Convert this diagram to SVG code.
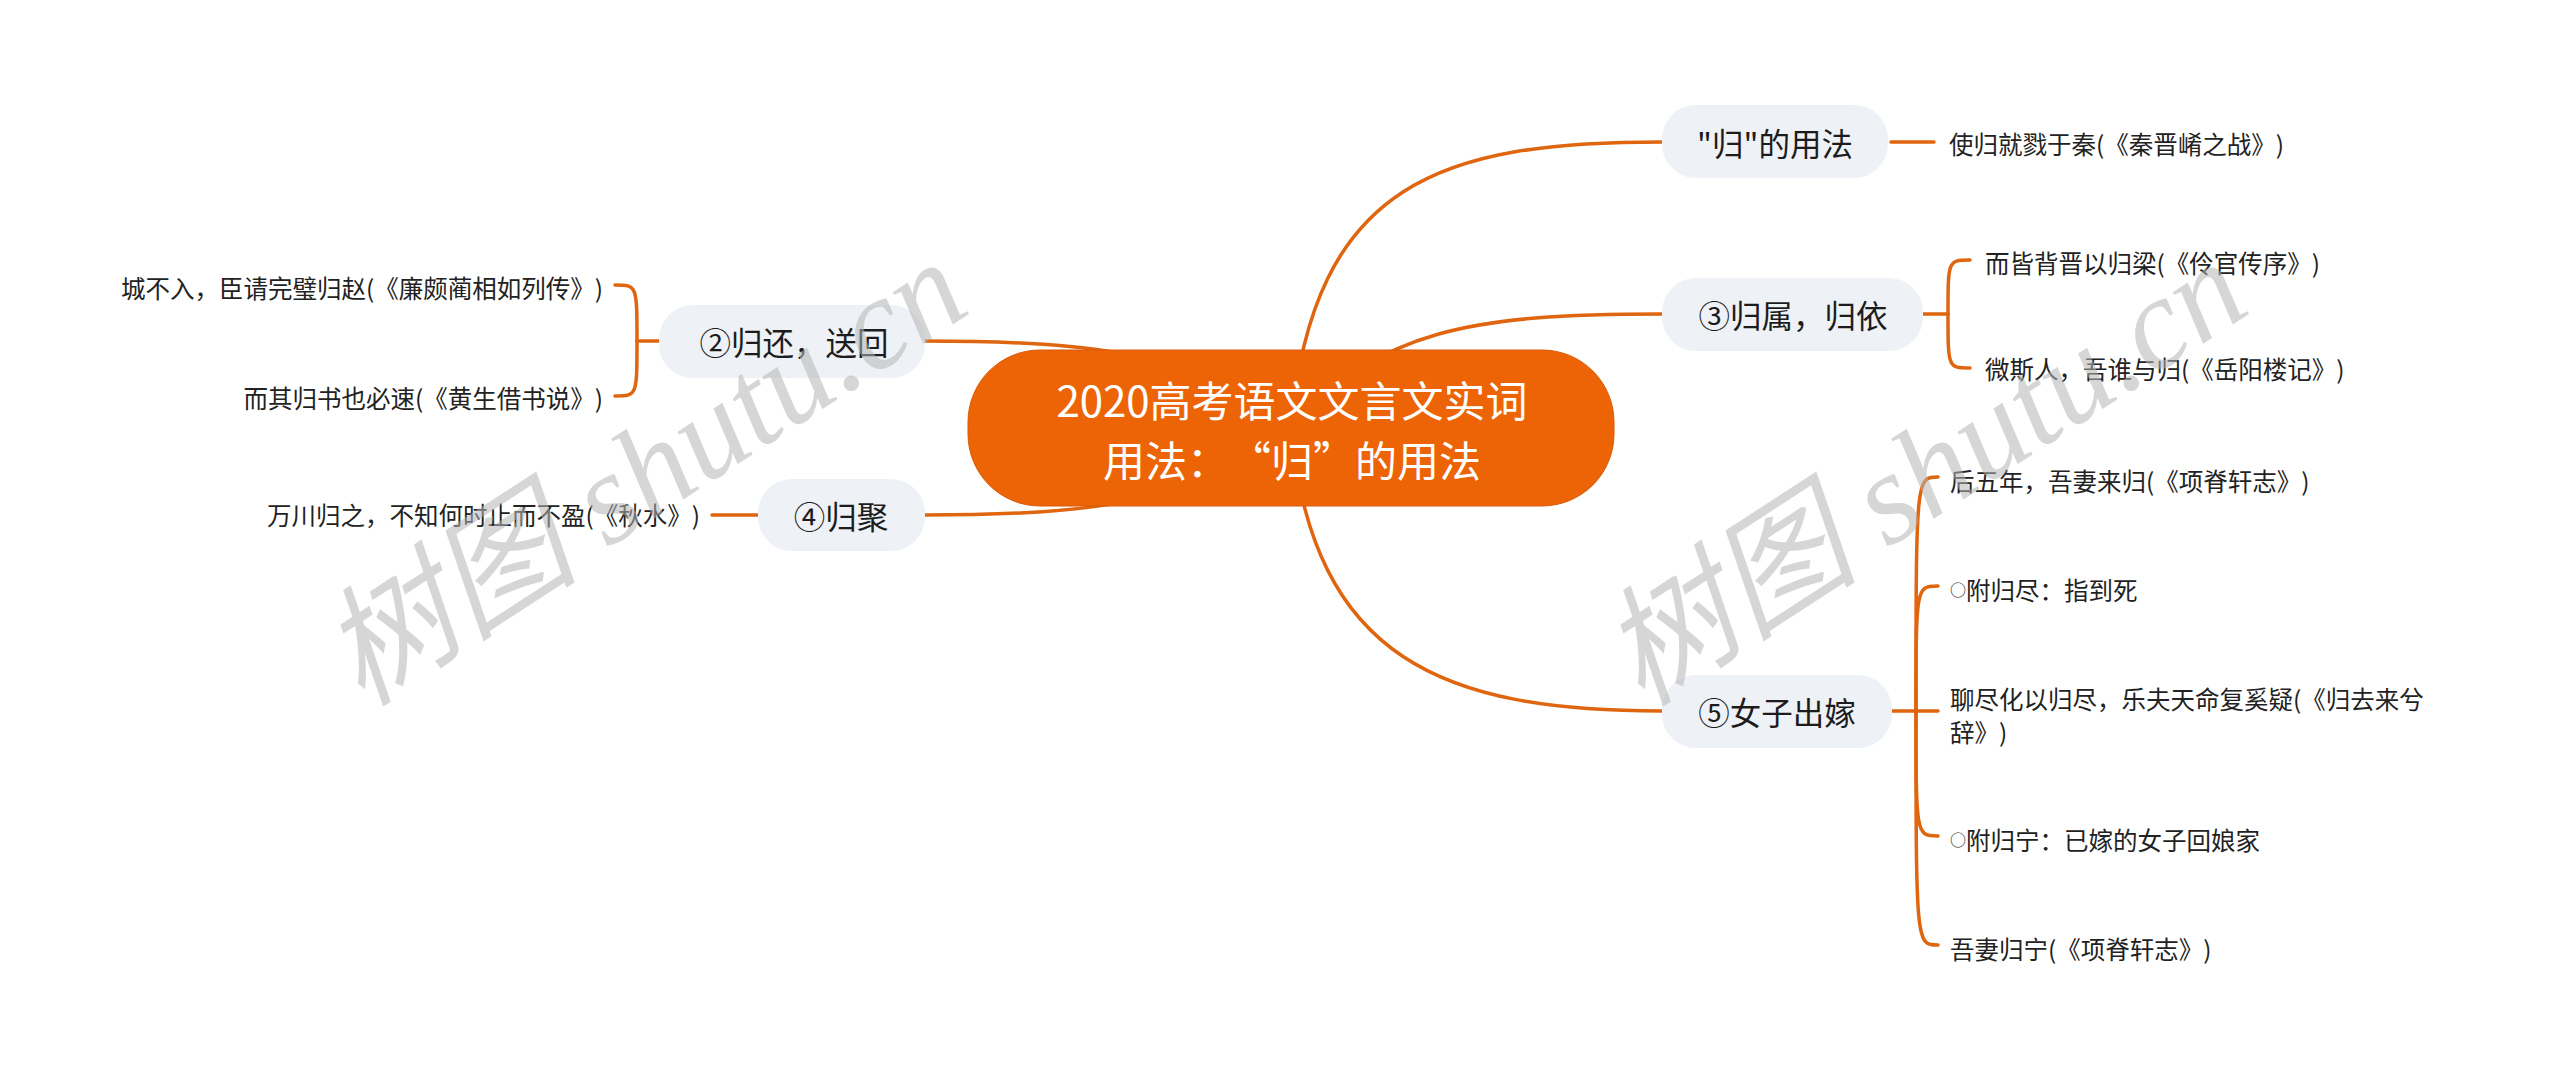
<svg xmlns="http://www.w3.org/2000/svg" width="2560" height="1079" viewBox="0 0 2560 1079">
<style>
text{text-spacing-trim:space-all}
.bg{fill:#ffffff}
.ln{fill:none;stroke:#E0650F;stroke-width:3.5;stroke-linecap:round}
.topic{fill:#EEF1F5}
.root{fill:#ED6406;stroke:#D95A08;stroke-width:1}
.rt{font-family:"Noto Sans CJK SC","Noto Sans",sans-serif;font-size:42px;fill:#ffffff;text-anchor:middle;dominant-baseline:central}
.tt{font-family:"Noto Sans CJK SC","Noto Sans",sans-serif;font-size:31.5px;fill:#1c1c1c;text-anchor:middle;dominant-baseline:central}
.lf{font-family:"Noto Sans CJK SC","Noto Sans",sans-serif;font-size:24.5px;fill:#222222;dominant-baseline:central}
.le{text-anchor:end}
.dot{font-size:16px}
.wm{font-family:"Liberation Serif","Noto Sans CJK SC",serif;font-style:italic;font-size:130px;fill:#b4b4b4;fill-opacity:0.55}
</style>
<rect class="bg" x="0" y="0" width="2560" height="1079"/>
<g id="connectors">
  <path class="ln" d="M1291 428 C1313 180 1444 142 1662 142"/>
  <path class="ln" d="M1291 428 C1380 330 1470 314 1662 314"/>
  <path class="ln" d="M1291 428 C1313 660 1444 711 1662 711"/>
  <path class="ln" d="M1291 428 C1200 355 1100 341 925 341"/>
  <path class="ln" d="M1291 428 C1200 501 1100 515 924 515"/>
  <path class="ln" d="M1891 142 H1934"/>
  <path class="ln" d="M1923 314 H1948"/>
  <path class="ln" d="M1948 314 C1948 260 1948 260 1970 260"/>
  <path class="ln" d="M1948 314 C1948 368 1948 368 1970 368"/>
  <path class="ln" d="M1892 711 H1938"/>
  <path class="ln" d="M1916 711 C1916 477 1916 477 1938 477"/>
  <path class="ln" d="M1916 711 C1916 586 1916 586 1938 586"/>
  <path class="ln" d="M1916 711 C1916 836 1916 836 1938 836"/>
  <path class="ln" d="M1916 711 C1916 945 1916 945 1938 945"/>
  <path class="ln" d="M659 341 H637"/>
  <path class="ln" d="M637 341 C637 285 637 285 615 285"/>
  <path class="ln" d="M637 341 C637 396 637 396 615 396"/>
  <path class="ln" d="M758 515 H712"/>
</g>
<g id="root">
  <rect class="root" x="968" y="350" width="646" height="156" rx="72"/>
  <text class="rt" x="1292" y="398">2020高考语文文言文实词</text>
  <text class="rt" x="1292" y="458">用法：“归”的用法</text>
</g>
<g id="n-usage">
  <rect class="topic" x="1662" y="105" width="226" height="73" rx="34"/>
  <text class="tt" x="1775" y="142">"归"的用法</text>
</g>
<g id="n-usage-1">
  <text class="lf" x="1949" y="143">使归就戮于秦(《秦晋崤之战》)</text>
</g>
<g id="n3">
  <rect class="topic" x="1662" y="278" width="261" height="73" rx="34"/>
  <text class="tt" x="1793" y="314">③归属，归依</text>
</g>
<g id="n3-1">
  <text class="lf" x="1985" y="262">而皆背晋以归梁(《伶官传序》)</text>
</g>
<g id="n3-2">
  <text class="lf" x="1985" y="368">微斯人，吾谁与归(《岳阳楼记》)</text>
</g>
<g id="n5">
  <rect class="topic" x="1662" y="675" width="230" height="73" rx="34"/>
  <text class="tt" x="1777" y="711">⑤女子出嫁</text>
</g>
<g id="n5-1">
  <text class="lf" x="1950" y="480">后五年，吾妻来归(《项脊轩志》)</text>
</g>
<g id="n5-2">
  <text class="lf" x="1950" y="589"><tspan class="dot">○</tspan>附归尽：指到死</text>
</g>
<g id="n5-3">
  <text class="lf" x="1950" y="698">聊尽化以归尽，乐夫天命复奚疑(《归去来兮</text>
  <text class="lf" x="1950" y="731">辞》)</text>
</g>
<g id="n5-4">
  <text class="lf" x="1950" y="839"><tspan class="dot">○</tspan>附归宁：已嫁的女子回娘家</text>
</g>
<g id="n5-5">
  <text class="lf" x="1950" y="948">吾妻归宁(《项脊轩志》)</text>
</g>
<g id="n2">
  <rect class="topic" x="659" y="305" width="266" height="73" rx="34"/>
  <text class="tt" x="794" y="341">②归还，送回</text>
</g>
<g id="n2-1">
  <text class="lf le" x="603" y="287">城不入，臣请完璧归赵(《廉颇蔺相如列传》)</text>
</g>
<g id="n2-2">
  <text class="lf le" x="603" y="397">而其归书也必速(《黄生借书说》)</text>
</g>
<g id="n4">
  <rect class="topic" x="758" y="479" width="167" height="72" rx="34"/>
  <text class="tt" x="841" y="515">④归聚</text>
</g>
<g id="n4-1">
  <text class="lf le" x="700" y="514">万川归之，不知何时止而不盈(《秋水》)</text>
</g>
<g id="watermarks">
  <text class="wm" transform="translate(362 708) rotate(-33)">树图 shutu.cn</text>
  <text class="wm" transform="translate(1642 708) rotate(-33)">树图 shutu.cn</text>
</g>
</svg>
